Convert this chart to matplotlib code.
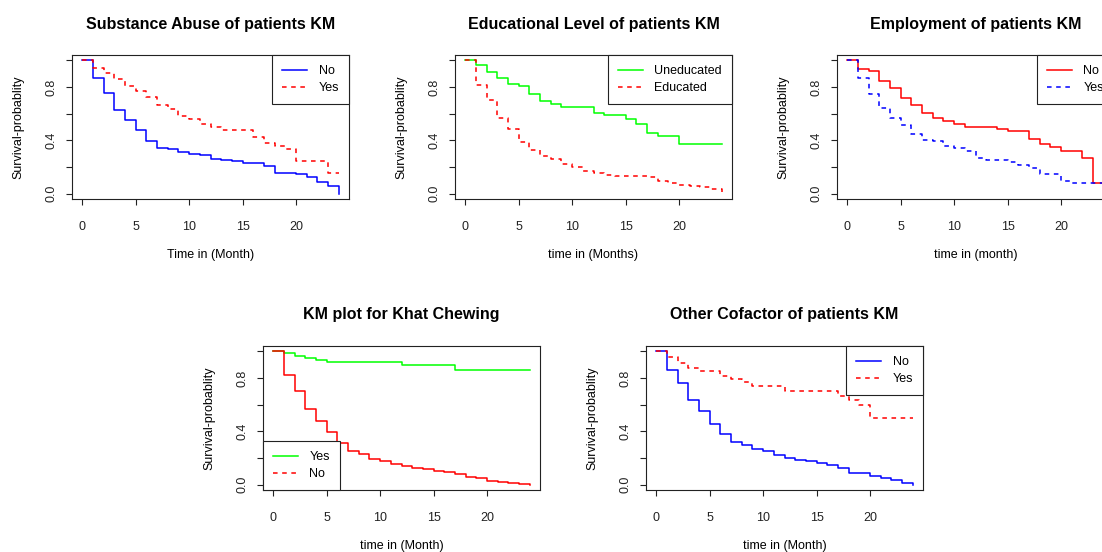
import matplotlib
matplotlib.use("Agg")
import matplotlib.pyplot as plt
from matplotlib.lines import Line2D

plt.rcParams['font.family'] = ['Liberation Sans', 'DejaVu Sans']

# ---------------- data ----------------
months = list(range(0, 25))

substance_no = [1.0, 0.864, 0.758, 0.629, 0.551, 0.475, 0.394, 0.341, 0.333, 0.313, 0.298, 0.288,
                0.263, 0.25, 0.242, 0.227, 0.227, 0.205, 0.157, 0.157, 0.144, 0.124, 0.091, 0.061, 0.0]
substance_yes = [1.0, 0.944, 0.902, 0.859, 0.808, 0.768, 0.725, 0.667, 0.636, 0.586, 0.563, 0.523,
                 0.50, 0.48, 0.48, 0.475, 0.424, 0.379, 0.359, 0.333, 0.242, 0.242, 0.242, 0.157, 0.157]

edu_uneducated = [1.0, 0.965, 0.912, 0.869, 0.826, 0.806, 0.75, 0.692, 0.674, 0.649, 0.649, 0.649,
                  0.606, 0.591, 0.591, 0.561, 0.523, 0.452, 0.429, 0.429, 0.369, 0.369, 0.369, 0.369, 0.369]
edu_educated = [1.0, 0.818, 0.705, 0.568, 0.482, 0.386, 0.328, 0.28, 0.263, 0.225, 0.2, 0.167,
                0.157, 0.141, 0.136, 0.136, 0.136, 0.126, 0.093, 0.083, 0.068, 0.056, 0.048, 0.038, 0.01]

employ_no = [1.0, 0.937, 0.917, 0.843, 0.793, 0.717, 0.662, 0.606, 0.568, 0.545, 0.525, 0.5,
             0.5, 0.5, 0.485, 0.467, 0.467, 0.411, 0.373, 0.348, 0.318, 0.318, 0.267, 0.083, 0.083]
employ_yes = [1.0, 0.869, 0.747, 0.646, 0.571, 0.518, 0.449, 0.404, 0.394, 0.356, 0.341, 0.32,
              0.268, 0.25, 0.25, 0.235, 0.212, 0.192, 0.146, 0.146, 0.098, 0.081, 0.081, 0.081, 0.081]

khat_yes = [1.0, 0.99, 0.967, 0.949, 0.934, 0.919, 0.919, 0.919, 0.919, 0.919, 0.919, 0.919,
            0.901, 0.901, 0.901, 0.901, 0.901, 0.858, 0.858, 0.858, 0.858, 0.858, 0.858, 0.858, 0.858]
khat_no = [1.0, 0.82, 0.699, 0.567, 0.476, 0.395, 0.311, 0.256, 0.228, 0.192, 0.175, 0.154,
           0.142, 0.124, 0.116, 0.106, 0.094, 0.081, 0.056, 0.048, 0.025, 0.018, 0.013, 0.005, 0.0]

other_no = [1.0, 0.863, 0.762, 0.638, 0.549, 0.458, 0.382, 0.319, 0.299, 0.268, 0.251, 0.22,
            0.197, 0.187, 0.177, 0.165, 0.149, 0.124, 0.086, 0.086, 0.063, 0.051, 0.038, 0.013, 0.0]
other_yes = [1.0, 0.954, 0.909, 0.873, 0.853, 0.853, 0.815, 0.79, 0.77, 0.742, 0.742, 0.742,
             0.701, 0.701, 0.701, 0.701, 0.701, 0.666, 0.633, 0.597, 0.501, 0.501, 0.501, 0.501, 0.501]

x_ticks = [0, 5, 10, 15, 20]
y_ticks = [0.0, 0.2, 0.4, 0.6, 0.8, 1.0]
y_tick_labels = ['0.0', '', '0.4', '', '0.8', '']

# ---------------- layout ----------------
W, H = 1102, 552
fig = plt.figure(figsize=(W / 100, H / 100), dpi=100)

AW, AH = 277, 144
BLUE, RED, GREEN = '#0000FF', '#FF0000', '#00FF00'
DASH = (0, (3, 3))


def make_axes(left_px, top_px):
    return fig.add_axes([left_px / W, (H - top_px - AH) / H, AW / W, AH / H])


def km_panel(ax, curves, legend_items, title, xlabel, legend_loc):
    for vals, color, ls in curves:
        ax.step(months, vals, where='post', color=color, lw=1.1, ls=ls)
    ax.set_xlim(-0.96, 24.96)
    ax.set_ylim(-0.04, 1.04)
    ax.set_xticks(x_ticks)
    ax.set_xticklabels([str(v) for v in x_ticks])
    ax.set_yticks(y_ticks)
    ax.set_yticklabels(y_tick_labels, rotation=90, va='center')
    ax.tick_params(axis='both', direction='out', length=4.3, width=0.8,
                   labelsize=9, colors='#222222')
    ax.tick_params(axis='x', pad=11.5)
    ax.tick_params(axis='y', pad=6)
    for sp in ax.spines.values():
        sp.set_linewidth(0.8)
        sp.set_color('#222222')
    ax.set_ylabel('Survival-probablity', fontsize=9)
    ax.yaxis.set_label_coords(-54 / AW, 0.5)
    ax.yaxis.label.set_va('center')
    ax.set_xlabel(xlabel, fontsize=9)
    ax.xaxis.set_label_coords(0.5, -56 / AH)
    ax.xaxis.label.set_va('center')
    ax.text(0.5, 1 + 31 / AH, title, transform=ax.transAxes, ha='center', va='center',
            fontsize=11.5, fontweight='bold')
    handles = [Line2D([0], [0], color=c, lw=1.1, ls=ls) for c, ls, _ in legend_items]
    labels = [lab for _, _, lab in legend_items]
    leg = ax.legend(handles, labels, loc=legend_loc, frameon=True, fancybox=False,
                    edgecolor='#222222', framealpha=1, borderaxespad=0, handlelength=2.0,
                    handletextpad=0.9, borderpad=0.8, labelspacing=0.4, fontsize=9)
    leg.get_frame().set_linewidth(0.8)


ax1 = make_axes(72, 55)
km_panel(ax1, [(substance_no, BLUE, '-'), (substance_yes, RED, DASH)],
         [(BLUE, '-', 'No'), (RED, DASH, 'Yes')],
         'Substance Abuse of patients KM', 'Time in (Month)', 'upper right')

ax2 = make_axes(455, 55)
km_panel(ax2, [(edu_uneducated, GREEN, '-'), (edu_educated, RED, DASH)],
         [(GREEN, '-', 'Uneducated'), (RED, DASH, 'Educated')],
         'Educational Level of patients KM', 'time in (Months)', 'upper right')

ax3 = make_axes(837, 55)
km_panel(ax3, [(employ_no, RED, '-'), (employ_yes, BLUE, DASH)],
         [(RED, '-', 'No'), (BLUE, DASH, 'Yes')],
         'Employment of patients KM', 'time in (month)', 'upper right')

ax4 = make_axes(263, 346)
km_panel(ax4, [(khat_yes, GREEN, '-'), (khat_no, RED, '-')],
         [(GREEN, '-', 'Yes'), (RED, DASH, 'No')],
         'KM plot for Khat Chewing', 'time in (Month)', 'lower left')

ax5 = make_axes(646, 346)
km_panel(ax5, [(other_no, BLUE, '-'), (other_yes, RED, DASH)],
         [(BLUE, '-', 'No'), (RED, DASH, 'Yes')],
         'Other Cofactor of patients KM', 'time in (Month)', 'upper right')

fig.savefig('out.png', dpi=100)
